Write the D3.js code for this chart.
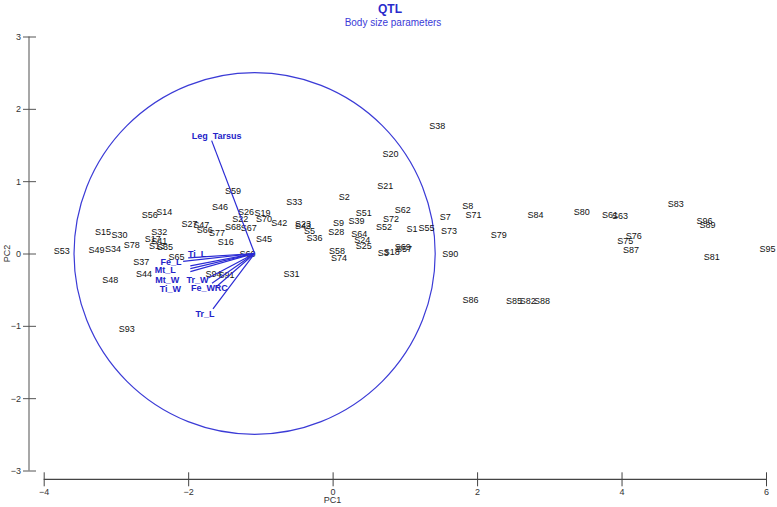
<!DOCTYPE html>
<html>
<head>
<meta charset="utf-8">
<script src="https://cdn.jsdelivr.net/npm/d3@7"></script>
<style>
  body { margin: 0; background: #fff; }
  svg text { font-family: Arial, "Liberation Sans", sans-serif; }
</style>
</head>
<body>
<svg id="chart" width="777" height="507"></svg>
<script>
// sample scores (PC1, PC2)
var sampleNames = ["S53","S15","S30","S49","S34","S78","S48","S37","S44","S56","S14","S32","S17","S41","S13","S35","S65","S93",
  "S59","S46","S26","S19","S22","S70","S42","S27","S47","S66","S77","S68","S67","S45","S16","S60","S94","S91",
  "S33","S2","S51","S39","S9","S23","S43","S5","S36","S28","S21","S20","S38","S62","S72","S52","S1","S55","S7","S73",
  "S64","S24","S25","S58","S74","S3","S18","S69","S57","S90","S31",
  "S8","S71","S79","S84","S80","S61","S63","S83","S96","S89","S76","S75","S87","S81","S95","S86","S85","S82","S88"];
var pc1 = [-3.75,-3.18,-2.95,-3.27,-3.04,-2.78,-3.08,-2.65,-2.61,-2.53,-2.33,-2.40,-2.49,-2.40,-2.43,-2.32,-2.16,-2.85,
  -1.38,-1.56,-1.20,-0.97,-1.28,-0.95,-0.74,-1.98,-1.82,-1.77,-1.60,-1.38,-1.16,-0.95,-1.48,-1.18,-1.65,-1.47,
  -0.53,0.16,0.43,0.33,0.08,-0.41,-0.41,-0.32,-0.25,0.05,0.73,0.80,1.45,0.97,0.81,0.71,1.10,1.30,1.56,1.61,
  0.37,0.41,0.43,0.06,0.09,0.70,0.82,0.97,0.99,1.63,-0.57,
  1.87,1.95,2.30,2.81,3.45,3.84,3.98,4.75,5.15,5.19,4.17,4.05,4.13,5.25,6.02,1.91,2.51,2.70,2.90];
var pc2 = [0.03,0.30,0.26,0.05,0.07,0.12,-0.36,-0.11,-0.28,0.54,0.57,0.30,0.20,0.18,0.10,0.09,-0.05,-1.04,
  0.87,0.64,0.57,0.56,0.48,0.48,0.42,0.41,0.40,0.33,0.29,0.37,0.35,0.20,0.16,0.00,-0.28,-0.29,
  0.72,0.78,0.56,0.45,0.42,0.41,0.38,0.32,0.22,0.30,0.94,1.38,1.77,0.61,0.48,0.37,0.34,0.36,0.51,0.31,
  0.27,0.19,0.11,0.04,-0.06,0.01,0.02,0.09,0.06,0.00,-0.28,
  0.66,0.54,0.26,0.54,0.57,0.53,0.52,0.68,0.45,0.40,0.24,0.18,0.05,-0.05,0.07,-0.64,-0.65,-0.65,-0.65];

// trait loadings (drawn from the vector origin)
var traitNames = ["Leg  Tarsus","Ti_L","Fe_L","Mt_L","Mt_W","Ti_W","Tr_W","Fe_W","RC","Tr_L"];
var loadX = [-1.675,-2.00,-2.07,-1.97,-1.97,-1.97,-1.72,-1.67,-1.61,-1.656];
var loadY = [1.56,-0.06,-0.11,-0.17,-0.21,-0.25,-0.34,-0.41,-0.46,-0.765];
var vectorOrigin = [-1.08, 0];
var circleRadius = 2.5;

var xTicks = [-4,-2,0,2,4,6];
var yTicks = [-3,-2,-1,0,1,2,3];

var svg = d3.select("#chart");
var x = d3.scaleLinear().domain([-4, 6]).range([43.7, 766]);
var y = d3.scaleLinear().domain([-3, 3]).range([470.5, 36.5]);

// titles
svg.append("text").attr("x", 390).attr("y", 13).attr("text-anchor", "middle")
  .attr("font-size", 12).attr("font-weight", "bold").attr("fill", "#2a2acc").text("QTL");
svg.append("text").attr("x", 393).attr("y", 26).attr("text-anchor", "middle")
  .attr("font-size", 10).attr("fill", "#3a3ad8").text("Body size parameters");

// y axis
var gy = svg.append("g").attr("transform", "translate(29,0)")
  .call(d3.axisLeft(y).tickValues(yTicks).tickSize(6).tickPadding(2).tickFormat(d3.format("d")));
gy.select(".domain").attr("stroke", "#8a8a8a").attr("stroke-width", 1.5).attr("d", "M0," + y(3) + "V" + y(-3));
gy.selectAll(".tick line").attr("x1", 7).attr("stroke", "#555");
gy.selectAll(".tick text").attr("font-size", 9).attr("fill", "#333").attr("font-family", "Arial");

// x axis
var gx = svg.append("g").attr("transform", "translate(0,479.3)")
  .call(d3.axisBottom(x).tickValues(xTicks).tickSize(7).tickPadding(2).tickFormat(d3.format("d")));
gx.select(".domain").attr("stroke", "#444").attr("stroke-width", 1.2).attr("d", "M" + x(-4) + ",0H" + x(6));
gx.selectAll(".tick line").attr("y1", -7).attr("stroke", "#444");
gx.selectAll(".tick text").attr("font-size", 9).attr("fill", "#333").attr("font-family", "Arial");

svg.append("text").attr("x", x(0)).attr("y", 503).attr("text-anchor", "middle")
  .attr("font-size", 9).attr("fill", "#333").text("PC1");
svg.append("text").attr("transform", "translate(10," + y(0) + ") rotate(-90)")
  .attr("text-anchor", "middle").attr("font-size", 9).attr("fill", "#333").text("PC2");

// correlation circle
svg.append("ellipse")
  .attr("cx", x(vectorOrigin[0])).attr("cy", y(vectorOrigin[1]))
  .attr("rx", x(circleRadius) - x(0)).attr("ry", y(0) - y(circleRadius))
  .attr("fill", "none").attr("stroke", "#3b3bd6").attr("stroke-width", 1.2);

// sample labels
var samples = sampleNames.map(function(n, i) { return { name: n, x: pc1[i], y: pc2[i] }; });
svg.append("g").selectAll("text").data(samples).enter().append("text")
  .attr("x", function(d) { return x(d.x); })
  .attr("y", function(d) { return y(d.y); })
  .attr("dy", "0.35em")
  .attr("text-anchor", "middle")
  .attr("font-size", 9)
  .attr("fill", "#111")
  .text(function(d) { return d.name; });

// trait vectors
var labelShift = {
  "Leg  Tarsus": [5, -5], "Ti_L": [9, -4], "Fe_L": [-12, 0], "Mt_L": [-25, 4], "Mt_W": [-23, 11],
  "Ti_W": [-20, 17], "Tr_W": [-11, 2], "Fe_W": [-9, 5], "RC": [5, 1], "Tr_L": [-8, 5]
};
var traits = traitNames.map(function(n, i) { return { name: n, x: loadX[i], y: loadY[i] }; });
var gv = svg.append("g");
gv.selectAll("line").data(traits).enter().append("line")
  .attr("x1", x(vectorOrigin[0])).attr("y1", y(vectorOrigin[1]))
  .attr("x2", function(d) { return x(d.x); })
  .attr("y2", function(d) { return y(d.y); })
  .attr("stroke", "#2a2ad4").attr("stroke-width", 1.2);
gv.selectAll("text").data(traits).enter().append("text")
  .attr("x", function(d) { return x(d.x) + labelShift[d.name][0]; })
  .attr("y", function(d) { return y(d.y) + labelShift[d.name][1]; })
  .attr("dy", "0.35em")
  .attr("text-anchor", "middle")
  .attr("font-family", "'Liberation Serif', 'DejaVu Serif', serif")
  .attr("font-weight", "bold")
  .attr("font-size", 9)
  .attr("fill", "#2323c8")
  .style("white-space", "pre")
  .text(function(d) { return d.name; });
</script>
</body>
</html>
